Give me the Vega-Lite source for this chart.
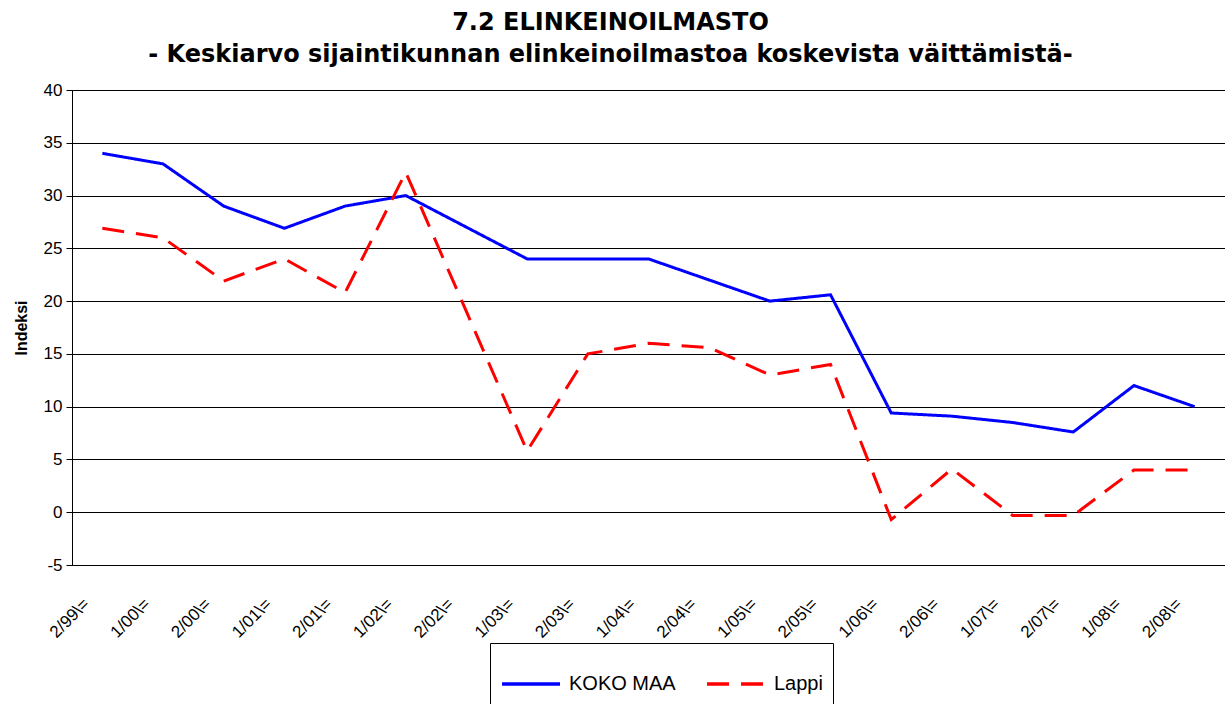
{
  "$schema": "https://vega.github.io/schema/vega-lite/v6.json",
  "autosize": "none",
  "width": 1153,
  "height": 475,
  "padding": {"left": 72, "top": 90, "right": 0, "bottom": 139},
  "background": "white",
  "config": {
    "font": "Liberation Sans",
    "view": {"stroke": "black", "strokeWidth": 1}
  },
  "title": {
    "text": "7.2 ELINKEINOILMASTO",
    "subtitle": "- Keskiarvo sijaintikunnan elinkeinoilmastoa koskevista väittämistä-",
    "font": "DejaVu Sans",
    "subtitleFont": "DejaVu Sans",
    "fontSize": 24,
    "subtitleFontSize": 24,
    "fontWeight": "bold",
    "subtitleFontWeight": "bold",
    "color": "black",
    "subtitleColor": "black",
    "anchor": "middle",
    "dx": -38,
    "offset": 14,
    "subtitlePadding": 8
  },
  "data": {
    "values": [
      {"period": "2/99\\=", "series": "KOKO MAA", "value": 34},
      {"period": "1/00\\=", "series": "KOKO MAA", "value": 33},
      {"period": "2/00\\=", "series": "KOKO MAA", "value": 29},
      {"period": "1/01\\=", "series": "KOKO MAA", "value": 26.9},
      {"period": "2/01\\=", "series": "KOKO MAA", "value": 29},
      {"period": "1/02\\=", "series": "KOKO MAA", "value": 30},
      {"period": "2/02\\=", "series": "KOKO MAA", "value": 27},
      {"period": "1/03\\=", "series": "KOKO MAA", "value": 24},
      {"period": "2/03\\=", "series": "KOKO MAA", "value": 24},
      {"period": "1/04\\=", "series": "KOKO MAA", "value": 24},
      {"period": "2/04\\=", "series": "KOKO MAA", "value": 22},
      {"period": "1/05\\=", "series": "KOKO MAA", "value": 20},
      {"period": "2/05\\=", "series": "KOKO MAA", "value": 20.6},
      {"period": "1/06\\=", "series": "KOKO MAA", "value": 9.4},
      {"period": "2/06\\=", "series": "KOKO MAA", "value": 9.1},
      {"period": "1/07\\=", "series": "KOKO MAA", "value": 8.5},
      {"period": "2/07\\=", "series": "KOKO MAA", "value": 7.6},
      {"period": "1/08\\=", "series": "KOKO MAA", "value": 12},
      {"period": "2/08\\=", "series": "KOKO MAA", "value": 10},
      {"period": "2/99\\=", "series": "Lappi", "value": 26.9},
      {"period": "1/00\\=", "series": "Lappi", "value": 26},
      {"period": "2/00\\=", "series": "Lappi", "value": 21.9},
      {"period": "1/01\\=", "series": "Lappi", "value": 24},
      {"period": "2/01\\=", "series": "Lappi", "value": 20.8},
      {"period": "1/02\\=", "series": "Lappi", "value": 32.2},
      {"period": "2/02\\=", "series": "Lappi", "value": 19},
      {"period": "1/03\\=", "series": "Lappi", "value": 5.8},
      {"period": "2/03\\=", "series": "Lappi", "value": 15},
      {"period": "1/04\\=", "series": "Lappi", "value": 16},
      {"period": "2/04\\=", "series": "Lappi", "value": 15.6},
      {"period": "1/05\\=", "series": "Lappi", "value": 13},
      {"period": "2/05\\=", "series": "Lappi", "value": 14},
      {"period": "1/06\\=", "series": "Lappi", "value": -0.7},
      {"period": "2/06\\=", "series": "Lappi", "value": 4.1},
      {"period": "1/07\\=", "series": "Lappi", "value": -0.3},
      {"period": "2/07\\=", "series": "Lappi", "value": -0.3},
      {"period": "1/08\\=", "series": "Lappi", "value": 4},
      {"period": "2/08\\=", "series": "Lappi", "value": 4}
    ]
  },
  "mark": {"type": "line", "strokeWidth": 3},
  "encoding": {
    "x": {
      "field": "period",
      "type": "ordinal",
      "sort": null,
      "scale": {"type": "point", "padding": 0.5},
      "axis": {
        "title": null,
        "labelAngle": -45,
        "labelAlign": "right",
        "labelBaseline": "middle",
        "labelFontSize": 17,
        "labelColor": "black",
        "labelOffset": -16,
        "labelPadding": 36,
        "ticks": false,
        "domain": true,
        "domainColor": "black",
        "grid": false
      }
    },
    "y": {
      "field": "value",
      "type": "quantitative",
      "scale": {"domain": [-5, 40], "nice": false, "zero": false},
      "axis": {
        "title": "Indeksi",
        "titleFontSize": 16,
        "titleFontWeight": "bold",
        "titleColor": "black",
        "titlePadding": 14,
        "values": [-5, 0, 5, 10, 15, 20, 25, 30, 35, 40],
        "labelExpr": "'' + datum.value",
        "labelFontSize": 17,
        "labelColor": "black",
        "labelPadding": 4,
        "tickColor": "black",
        "tickSize": 6,
        "domainColor": "black",
        "grid": true,
        "gridColor": "black",
        "gridOpacity": 1,
        "gridWidth": 1
      }
    },
    "color": {
      "field": "series",
      "type": "nominal",
      "scale": {"domain": ["KOKO MAA", "Lappi"], "range": ["#0000FF", "#FF0000"]},
      "legend": {
        "title": null,
        "orient": "none",
        "direction": "horizontal",
        "legendX": 418,
        "legendY": 553,
        "strokeColor": "black",
        "fillColor": "white",
        "padding": 10,
        "labelFontSize": 20,
        "labelColor": "black",
        "symbolType": "stroke",
        "symbolSize": 3364,
        "symbolStrokeWidth": 3.5,
        "symbolDash": [22, 12],
        "columnPadding": 24,
        "labelOffset": 7
      }
    },
    "strokeDash": {
      "field": "series",
      "type": "nominal",
      "scale": {"domain": ["KOKO MAA", "Lappi"], "range": [[1, 0], [22, 12]]},
      "legend": null
    }
  }
}
